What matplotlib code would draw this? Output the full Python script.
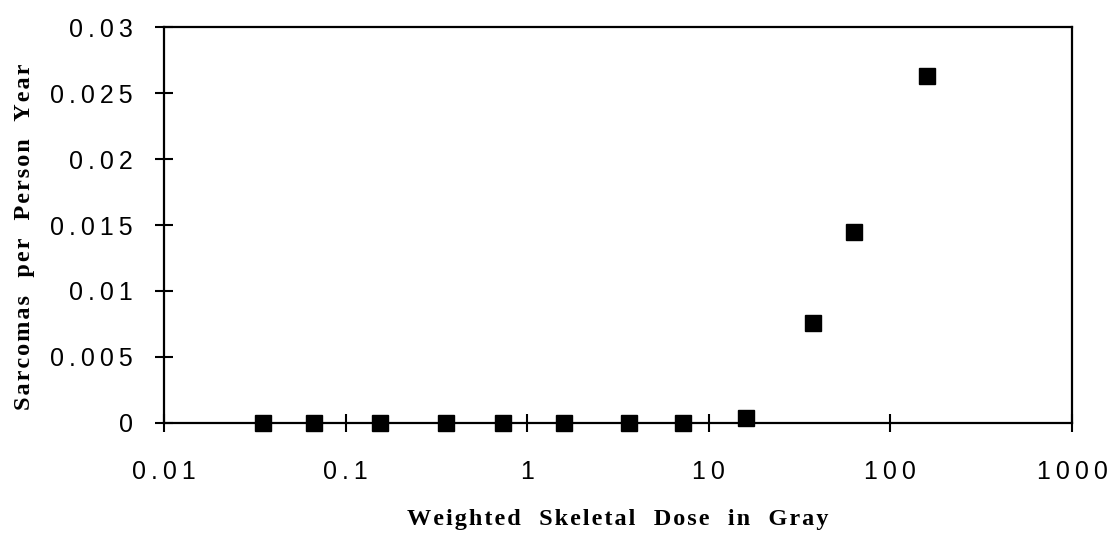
import numpy as np
import matplotlib
matplotlib.use("Agg")
from matplotlib import pyplot as plt
from matplotlib.ticker import FixedLocator, FuncFormatter, NullLocator

# skeletal dose (Gy) and sarcoma rate
dose = [0.035, 0.067, 0.155, 0.357, 0.74, 1.6, 3.65, 7.2, 16.0, 37.5, 63.0, 159.0]
rate = [0.0, 0.0, 0.0, 0.0, 0.0, 0.0, 0.0, 0.0, 0.0004, 0.0076, 0.0145, 0.0263]

x_ticks = [0.01, 0.1, 1, 10, 100, 1000]
x_labels = ["0.01", "0.1", "1", "10", "100", "1000"]
y_ticks = [0, 0.005, 0.01, 0.015, 0.02, 0.025, 0.03]
y_labels = ["0", "0.005", "0.01", "0.015", "0.02", "0.025", "0.03"]

def spaced(s, gap="\u2009"):
	return gap.join(s)

def spaced_words(s):
	# letter-spaced words, wide gaps between words
	return "   ".join(spaced(w, "\u200a") for w in s.split())

fig = plt.figure(figsize=(11.13, 5.34), dpi=100)
ax = fig.add_axes([0.1473, 0.2079, 0.9632 - 0.1473, 0.9494 - 0.2079])

ax.plot(dose, rate, linestyle="none", marker="s", markersize=12, color="black", clip_on=False, zorder=3)

ax.set_xscale("log")
ax.set_xlim(0.01, 1000)
ax.set_ylim(0, 0.03)
ax.xaxis.set_major_locator(FixedLocator(x_ticks))
ax.xaxis.set_minor_locator(NullLocator())
ax.xaxis.set_major_formatter(FuncFormatter(lambda v, p: spaced(x_labels[p]) if p is not None and p < len(x_labels) else ""))
ax.yaxis.set_major_locator(FixedLocator(y_ticks))
ax.yaxis.set_major_formatter(FuncFormatter(lambda v, p: spaced(y_labels[p]) if p is not None and p < len(y_labels) else ""))

for lab in ax.get_xticklabels() + ax.get_yticklabels():
	lab.set_fontfamily(["Liberation Sans", "DejaVu Sans"])
	lab.set_fontsize(18)

ax.tick_params(direction="inout", length=13, width=1.5)
ax.tick_params(axis="x", pad=20)
ax.tick_params(axis="y", pad=16)
for sp in ax.spines.values():
	sp.set_linewidth(1.6)

lab_font = dict(family=["Liberation Serif", "DejaVu Serif"], fontweight="bold", fontsize=17.5)
ax.set_xlabel(spaced_words("Weighted Skeletal Dose in Gray"), va="baseline", **lab_font)
ax.set_ylabel(spaced_words("Sarcomas per Person Year"), va="center", **lab_font)
ax.xaxis.set_label_coords(0.5, -0.258)
ax.yaxis.set_label_coords(-0.154, 0.47)

fig.savefig("out.png", dpi=100)
